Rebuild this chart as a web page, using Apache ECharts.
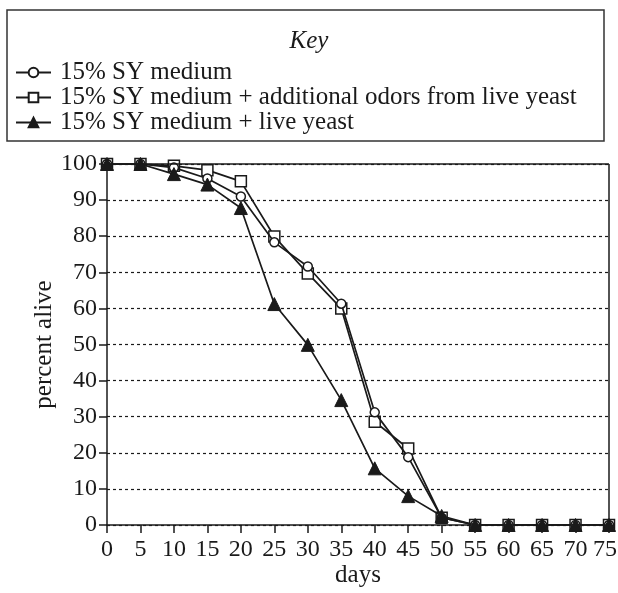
<!DOCTYPE html>
<html><head><meta charset="utf-8">
<script src="https://cdn.jsdelivr.net/npm/echarts@6/dist/echarts.min.js"></script>
<style>html,body{margin:0;padding:0;background:#fff}#c{width:618px;height:593px}</style>
</head><body><div id="c"></div>
<script>
const days = ['0','5','10','15','20','25','30','35','40','45','50','55','60','65','70','75'];
const seriesNames = ['15% SY medium','15% SY medium + additional odors from live yeast','15% SY medium + live yeast'];
const syMedium = [100,100,99,96,91,78.3,71.6,61.3,31.2,18.8,2,0,0,0,0,0];
const syOdors = [100,100,99.5,98.3,95.2,79.9,69.7,60,28.6,21.2,2,0,0,0,0,0];
const syYeast = [100,100,97.2,94.3,87.8,61.2,49.9,34.6,15.7,8,2.5,0,0,0,0,0];

const font = 'Liberation Serif, Times New Roman, serif';
const ink = '#1a1a1a';
const lastDay = days[days.length - 1];
const chart = echarts.init(document.getElementById('c'), null, {renderer:'canvas'});
const lineStyle = {color:ink, width:1.7};
chart.setOption({
  animation:false,
  backgroundColor:'#fff',
  title:{text:'Key', left:'center', top:24, textStyle:{fontFamily:font, fontStyle:'italic', fontWeight:'normal', fontSize:25, color:ink}},
  graphic:[{type:'rect', shape:{x:7, y:10, width:597, height:131}, style:{fill:'none', stroke:'#333', lineWidth:1.5}}],
  legend:{
    orient:'vertical', left:10, top:55, itemGap:0, itemWidth:35, itemHeight:12,
    textStyle:{fontFamily:font, fontSize:25, lineHeight:24.5, color:ink, padding:[0,0,0,4]},
    data:seriesNames
  },
  grid:{left:107, right:9, top:164, bottom:68, containLabel:false, outerBoundsMode:'none'},
  xAxis:{
    type:'category', data:days, boundaryGap:false,
    name:'days', nameLocation:'middle', nameGap:38, nameMoveOverlap:false,
    nameTextStyle:{fontFamily:font, fontSize:25, color:ink},
    axisLine:{lineStyle:{color:ink, width:1.5}},
    axisTick:{show:true, alignWithLabel:true, length:8, lineStyle:{color:ink, width:1.5}},
    axisLabel:{fontFamily:font, fontSize:24, color:ink, margin:13, interval:0, hideOverlap:false,
      formatter: v => v === lastDay ? '{e|' + v + '}' : v,
      rich:{e:{fontFamily:font, fontSize:24, color:ink, padding:[0,8,0,0]}}},
    splitLine:{show:false}
  },
  yAxis:{
    type:'value', min:0, max:100, interval:10,
    name:'percent alive', nameLocation:'middle', nameGap:50, nameMoveOverlap:false,
    nameTextStyle:{fontFamily:font, fontSize:25, color:ink},
    axisLine:{show:true, lineStyle:{color:ink, width:1.5}},
    axisTick:{show:true, length:8, lineStyle:{color:ink, width:1.5}},
    axisLabel:{fontFamily:font, fontSize:24, color:ink, margin:10},
    splitLine:{show:true, lineStyle:{color:ink, type:[3,3], width:1.2}}
  },
  series:[
    {name:seriesNames[0], type:'line', data:syMedium, symbol:'circle', symbolSize:9,
     lineStyle:lineStyle, itemStyle:{color:'#fff', borderColor:ink, borderWidth:1.5}, z:3},
    {name:seriesNames[1], type:'line', data:syOdors, symbol:'rect', symbolSize:11,
     lineStyle:lineStyle, itemStyle:{color:'#fff', borderColor:ink, borderWidth:1.5}, z:2},
    {name:seriesNames[2], type:'line', data:syYeast, symbol:'triangle', symbolSize:13,
     lineStyle:lineStyle, itemStyle:{color:ink, borderColor:ink, borderWidth:1}, z:4,
     markLine:{silent:true, symbol:'none', label:{show:false}, lineStyle:{color:ink, type:'solid', width:1.5},
       data:[[{coord:['0',100]},{coord:['75',100]}],[{coord:['75',0]},{coord:['75',100]}]]}}
  ]
});
</script></body></html>
